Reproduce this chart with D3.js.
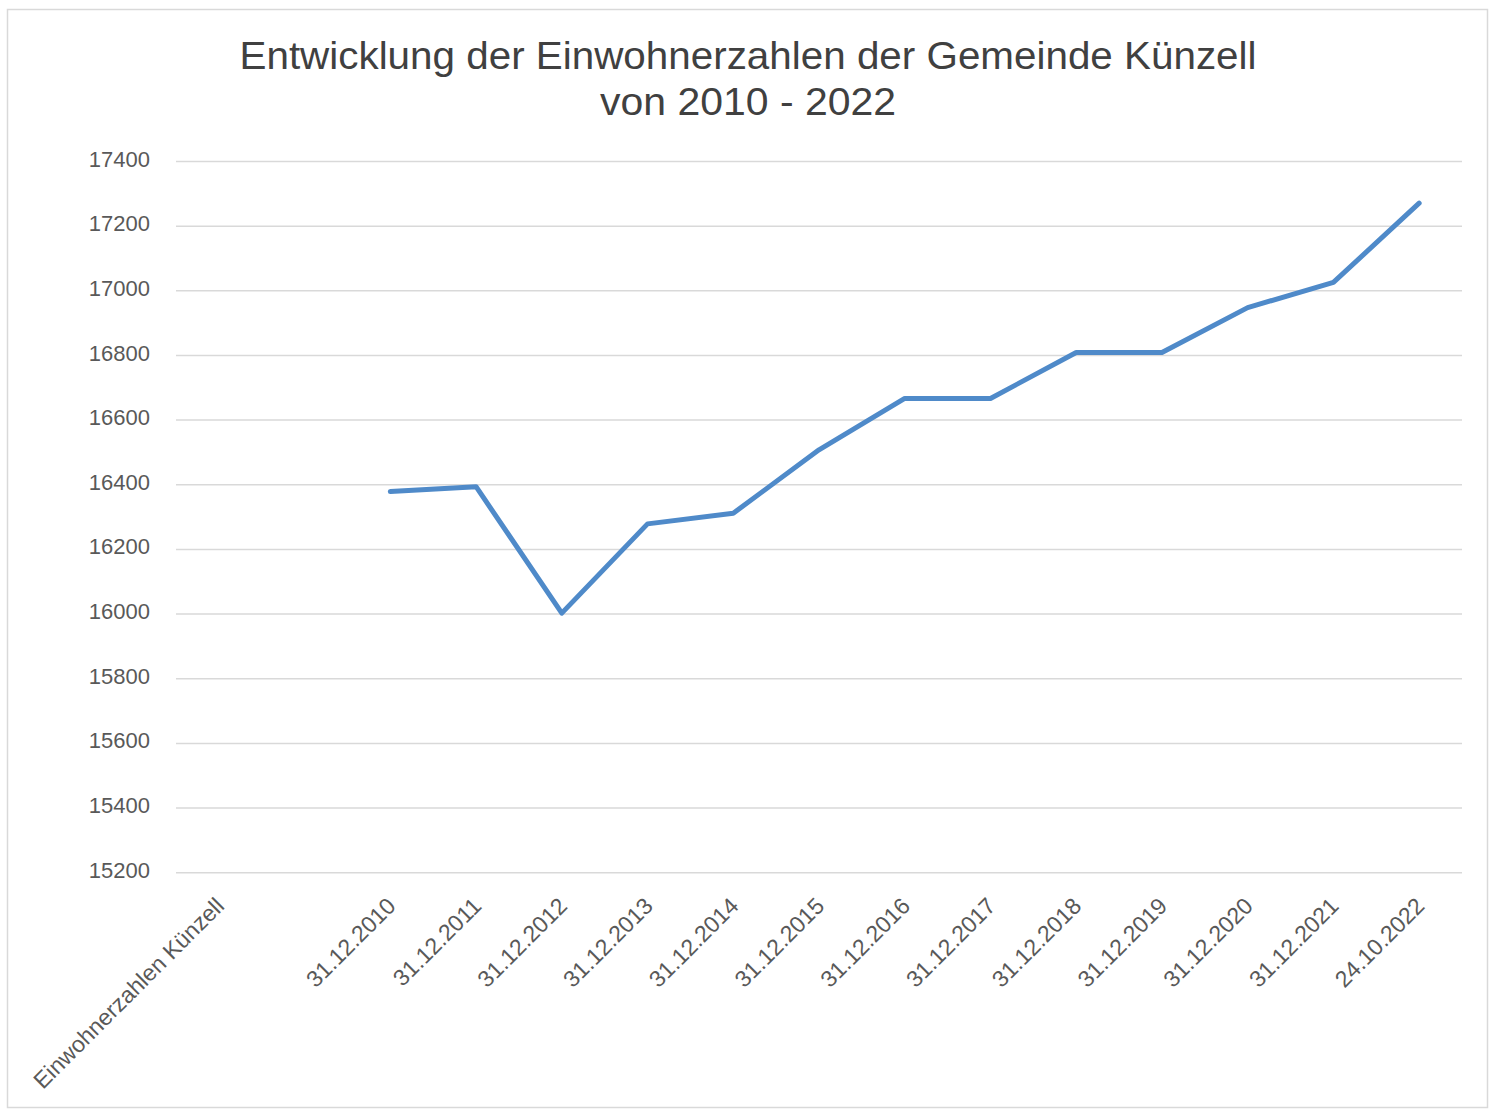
<!DOCTYPE html>
<html>
<head>
<meta charset="utf-8">
<script src="https://cdn.jsdelivr.net/npm/d3@7"></script>
<style>
  body { margin: 0; background: #fff; }
  svg { display: block; }
</style>
</head>
<body>
<svg id="chart" width="1495" height="1111"></svg>
<script>
// categories along the x axis (first two carry no value)
var categories = ['Einwohnerzahlen Künzell', '', '31.12.2010', '31.12.2011', '31.12.2012',
  '31.12.2013', '31.12.2014', '31.12.2015', '31.12.2016', '31.12.2017', '31.12.2018',
  '31.12.2019', '31.12.2020', '31.12.2021', '24.10.2022'];
var einwohner = [null, null, 16379, 16394, 16003, 16279, 16312, 16508, 16667, 16667,
  16809, 16809, 16948, 17026, 17271];
var yTicks = [15200, 15400, 15600, 15800, 16000, 16200, 16400, 16600, 16800, 17000, 17200, 17400];
var titleLines = ['Entwicklung der Einwohnerzahlen der Gemeinde Künzell', 'von 2010 - 2022'];

var svg = d3.select('#chart');
var margin = {left: 176, right: 1462, top: 161.5, bottom: 872.7};

// outer frame
svg.append('rect')
  .attr('x', 7.5).attr('y', 9.5)
  .attr('width', 1480).attr('height', 1098)
  .attr('fill', '#fff')
  .attr('stroke', '#d9d9d9')
  .attr('stroke-width', 1.5);

// title
svg.append('text')
  .attr('x', 748).attr('y', 69)
  .attr('text-anchor', 'middle')
  .attr('font-family', 'Liberation Sans, Arial, sans-serif')
  .attr('font-size', 39)
  .attr('fill', '#404040')
  .attr('textLength', 1017)
  .attr('lengthAdjust', 'spacingAndGlyphs')
  .text(titleLines[0]);
svg.append('text')
  .attr('x', 748).attr('y', 115)
  .attr('text-anchor', 'middle')
  .attr('font-family', 'Liberation Sans, Arial, sans-serif')
  .attr('font-size', 39)
  .attr('fill', '#404040')
  .attr('textLength', 296)
  .attr('lengthAdjust', 'spacingAndGlyphs')
  .text(titleLines[1]);

var x = d3.scaleBand()
  .domain(d3.range(categories.length))
  .range([margin.left, margin.right]);

var y = d3.scaleLinear()
  .domain([15200, 17400])
  .range([margin.bottom, margin.top]);

// gridlines
svg.append('g')
  .selectAll('line')
  .data(yTicks)
  .enter()
  .append('line')
  .attr('x1', margin.left)
  .attr('x2', margin.right)
  .attr('y1', d => y(d))
  .attr('y2', d => y(d))
  .attr('stroke', '#d9d9d9')
  .attr('stroke-width', 1.5);

// y axis labels
var yAxis = d3.axisLeft(y)
  .tickValues(yTicks)
  .tickSize(0)
  .tickPadding(0)
  .tickFormat(d3.format('d'));

svg.append('g')
  .attr('transform', 'translate(150,-2.5)')
  .call(yAxis)
  .call(g => g.select('.domain').remove())
  .selectAll('text')
  .attr('font-family', 'Liberation Sans, Arial, sans-serif')
  .attr('font-size', 22)
  .attr('fill', '#595959');

// x axis labels, rotated like excel does it
var xAxis = d3.axisBottom(x)
  .tickSize(0)
  .tickFormat(i => categories[i]);

svg.append('g')
  .attr('transform', 'translate(0,' + margin.bottom + ')')
  .call(xAxis)
  .call(g => g.select('.domain').remove())
  .selectAll('text')
  .attr('font-family', 'Liberation Sans, Arial, sans-serif')
  .attr('font-size', 23)
  .attr('fill', '#595959')
  .attr('text-anchor', 'end')
  .attr('x', 0)
  .attr('y', 0)
  .attr('dy', '0.35em')
  .attr('transform', 'translate(1,29) rotate(-45)');

// the line
var line = d3.line()
  .defined(d => d != null)
  .x((d, i) => x(i) + x.bandwidth() / 2)
  .y(d => y(d));

svg.append('path')
  .datum(einwohner)
  .attr('d', line)
  .attr('fill', 'none')
  .attr('stroke', '#4f8ac9')
  .attr('stroke-width', 5)
  .attr('stroke-linejoin', 'round')
  .attr('stroke-linecap', 'round');
</script>
</body>
</html>
